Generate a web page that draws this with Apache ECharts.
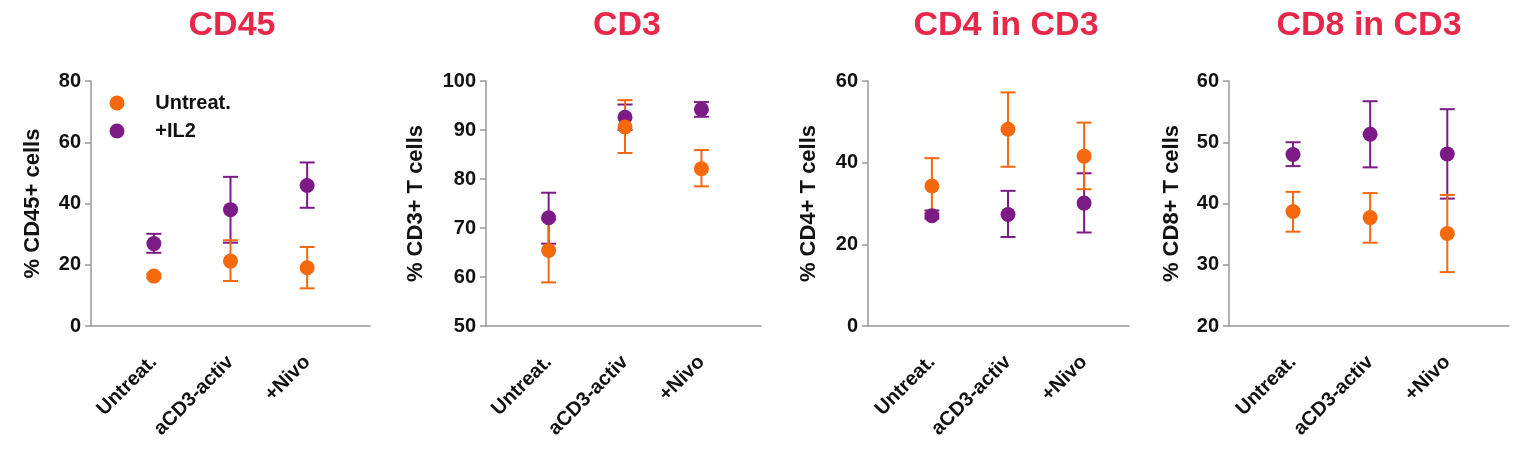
<!DOCTYPE html>
<html>
<head>
<meta charset="utf-8">
<script src="https://cdn.jsdelivr.net/npm/echarts@6/dist/echarts.min.js"></script>
<style>html,body{margin:0;padding:0;background:#fff}#c{width:1536px;height:459px}</style>
</head>
<body>
<div id="c"></div>
<script>
const categories = ['Untreat.', 'aCD3-activ', '+Nivo'];
const seriesNames = ['Untreat.', '+IL2'];
const panelTitles = ['CD45', 'CD3', 'CD4 in CD3', 'CD8 in CD3'];
const yAxisNames = ['% CD45+ cells', '% CD3+ T cells', '% CD4+ T cells', '% CD8+ T cells'];
const yMins = [0, 50, 0, 20];
const yMaxs = [80, 100, 60, 60];
const yIntervals = [20, 10, 20, 10];

// CD45
const cd45UntreatMean = [16.3, 21.2, 19.0];
const cd45UntreatLow  = [15.6, 14.7, 12.3];
const cd45UntreatHigh = [17.0, 28.0, 25.8];
const cd45Il2Mean = [26.9, 38.0, 45.9];
const cd45Il2Low  = [23.9, 27.2, 38.6];
const cd45Il2High = [30.1, 48.7, 53.4];
// CD3
const cd3UntreatMean = [65.4, 90.6, 82.1];
const cd3UntreatLow  = [58.9, 85.3, 78.5];
const cd3UntreatHigh = [71.8, 96.1, 85.9];
const cd3Il2Mean = [72.1, 92.6, 94.2];
const cd3Il2Low  = [66.8, 90.0, 92.7];
const cd3Il2High = [77.2, 95.2, 95.7];
// CD4 in CD3
const cd4UntreatMean = [34.3, 48.2, 41.6];
const cd4UntreatLow  = [27.6, 39.0, 33.5];
const cd4UntreatHigh = [41.1, 57.2, 49.8];
const cd4Il2Mean = [27.0, 27.3, 30.1];
const cd4Il2Low  = [26.3, 21.8, 22.9];
const cd4Il2High = [28.3, 33.1, 37.4];
// CD8 in CD3
const cd8UntreatMean = [38.7, 37.7, 35.1];
const cd8UntreatLow  = [35.4, 33.6, 28.8];
const cd8UntreatHigh = [41.9, 41.7, 41.4];
const cd8Il2Mean = [48.0, 51.3, 48.1];
const cd8Il2Low  = [46.1, 45.9, 40.8];
const cd8Il2High = [50.0, 56.7, 55.4];

const panels = [
  {u: [cd45UntreatMean, cd45UntreatLow, cd45UntreatHigh], p: [cd45Il2Mean, cd45Il2Low, cd45Il2High]},
  {u: [cd3UntreatMean, cd3UntreatLow, cd3UntreatHigh], p: [cd3Il2Mean, cd3Il2Low, cd3Il2High]},
  {u: [cd4UntreatMean, cd4UntreatLow, cd4UntreatHigh], p: [cd4Il2Mean, cd4Il2Low, cd4Il2High]},
  {u: [cd8UntreatMean, cd8UntreatLow, cd8UntreatHigh], p: [cd8Il2Mean, cd8Il2Low, cd8Il2High]}
];

const ORANGE = '#f5690c';
const PURPLE = '#7c1b86';
const TITLE_RED = '#e8284a';
const AXIS_GREY = '#999999';
const FONT = "'Liberation Sans', Arial, sans-serif";

// layout (pixels)
const gridLefts = [91, 486, 868, 1229];
const gridRights = [370, 761, 1129, 1509];
const xMins = [-0.82, -0.82, -0.84, -0.83];
const xMaxs = [2.82, 2.78, 2.59, 2.8];
const nameGaps = [47, 59, 48, 46];
const titleCenters = [232, 627, 1006, 1369];

const grid = [], xAxis = [], yAxis = [], series = [], title = [];

function errRender(color) {
  return function (params, api) {
    const x = api.value(0);
    const lo = api.coord([x, api.value(1)]);
    const hi = api.coord([x, api.value(2)]);
    const hw = 7.5;
    const style = {stroke: color, lineWidth: 2, fill: null};
    return {
      type: 'group',
      children: [
        {type: 'line', shape: {x1: lo[0], y1: lo[1], x2: hi[0], y2: hi[1]}, style},
        {type: 'line', shape: {x1: lo[0] - hw, y1: lo[1], x2: lo[0] + hw, y2: lo[1]}, style},
        {type: 'line', shape: {x1: hi[0] - hw, y1: hi[1], x2: hi[0] + hw, y2: hi[1]}, style}
      ]
    };
  };
}

panels.forEach((pn, i) => {
  grid.push({left: gridLefts[i], width: gridRights[i] - gridLefts[i], top: 81, bottom: 133, containLabel: false});
  title.push({
    text: panelTitles[i], left: titleCenters[i], top: 9, textAlign: 'center', padding: 0,
    textStyle: {color: TITLE_RED, fontSize: 34, fontWeight: 'bold', fontFamily: FONT}
  });
  xAxis.push({
    type: 'value', gridIndex: i, min: xMins[i], max: xMaxs[i],
    axisLine: {show: true, onZero: false, lineStyle: {color: AXIS_GREY, width: 1.5}},
    axisTick: {show: false},
    splitLine: {show: false},
    axisLabel: {
      customValues: [0, 1, 2],
      formatter: v => categories[Math.round(v)] || '',
      rotate: 45, margin: 33,
      color: '#111', fontSize: 20, fontWeight: 'bold', fontFamily: FONT
    }
  });
  yAxis.push({
    type: 'value', gridIndex: i, min: yMins[i], max: yMaxs[i], interval: yIntervals[i],
    name: yAxisNames[i], nameLocation: 'middle', nameGap: nameGaps[i],
    nameTextStyle: {color: '#111', fontSize: 22, fontWeight: 'bold', fontFamily: FONT},
    axisLine: {show: true, onZero: false, lineStyle: {color: AXIS_GREY, width: 1.5}},
    axisTick: {show: true, length: 6, lineStyle: {color: AXIS_GREY, width: 1.5}},
    splitLine: {show: false},
    axisLabel: {margin: 10, color: '#111', fontSize: 20, fontWeight: 'bold', fontFamily: FONT}
  });
  const groups = [
    {name: seriesNames[1], color: PURPLE, d: pn.p},
    {name: seriesNames[0], color: ORANGE, d: pn.u}
  ];
  groups.forEach(g => {
    series.push({
      type: 'custom', name: g.name + ' SEM', xAxisIndex: i, yAxisIndex: i,
      renderItem: errRender(g.color),
      data: categories.map((c, k) => [k, g.d[1][k], g.d[2][k]]),
      encode: {x: 0, y: [1, 2]},
      silent: true, z: 2
    });
    series.push({
      type: 'scatter', name: g.name, xAxisIndex: i, yAxisIndex: i,
      symbol: 'circle', symbolSize: 15,
      itemStyle: {color: g.color, opacity: 1},
      data: categories.map((c, k) => [k, g.d[0][k]]),
      z: 3
    });
  });
});

const chart = echarts.init(document.getElementById('c'), null, {renderer: 'canvas'});
chart.setOption({
  animation: false,
  backgroundColor: '#fff',
  title,
  legend: {
    data: [
      {name: seriesNames[0], icon: 'circle', itemStyle: {color: ORANGE}},
      {name: seriesNames[1], icon: 'circle', itemStyle: {color: PURPLE}}
    ],
    orient: 'vertical', left: 109.5, top: 93, padding: 0,
    itemWidth: 40.5, itemHeight: 15, itemGap: 8,
    textStyle: {color: '#111', fontSize: 20, fontWeight: 'bold', fontFamily: FONT, padding: [0, 0, 0, 13]}
  },
  grid, xAxis, yAxis, series
});
</script>
</body>
</html>
